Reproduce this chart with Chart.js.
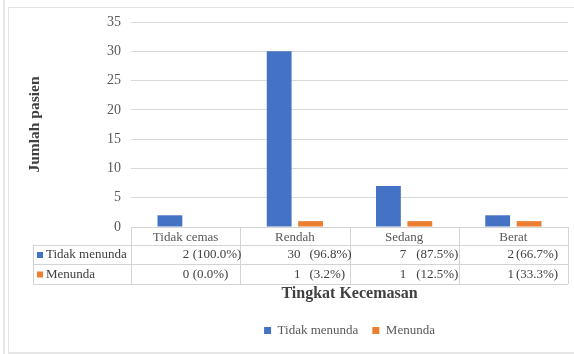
<!DOCTYPE html>
<html>
<head>
<meta charset="utf-8">
<script src="https://cdn.jsdelivr.net/npm/chart.js@4/dist/chart.umd.min.js"></script>
<style>
  html, body { margin: 0; padding: 0; background: #fff; }
  canvas { display: block; }
</style>
</head>
<body>
<canvas id="anxietyChart" width="574" height="354"></canvas>
<script>
// categories and series
const categories = ['Tidak cemas', 'Rendah', 'Sedang', 'Berat'];
const seriesNames = ['Tidak menunda', 'Menunda'];
const tidakMenunda = [2, 30, 7, 2];
const menunda = [0, 1, 1, 1];
const tidakMenundaPct = ['(100.0%)', '(96.8%)', '(87.5%)', '(66.7%)'];
const menundaPct = ['(0.0%)', '(3.2%)', '(12.5%)', '(33.3%)'];
const yTicks = [0, 5, 10, 15, 20, 25, 30, 35];

const FONT = "'Liberation Serif', 'Times New Roman', serif";
const BLUE = '#4472C4';
const ORANGE = '#ED7D31';
const TEXT = '#595959';
const LINE = '#d4d4d4';

// where numbers / percents sit inside each table cell (offset from column centre)
const numOffset = [3.5, 5.5, 2, 0.5];
const pctOffset = [7, 14.5, 12, 2.5];

const frame = {
  id: 'frame',
  beforeDraw(chart) {
    const c = chart.ctx;
    c.save();
    c.fillStyle = '#fff';
    c.fillRect(0, 0, chart.width, chart.height);
    c.strokeStyle = '#e3e3e3';
    c.lineWidth = 1;
    c.beginPath();
    c.moveTo(8.5, chart.height);
    c.lineTo(8.5, 7.5);
    c.lineTo(chart.width, 7.5);
    c.stroke();
    c.fillStyle = '#e6e6e6';
    c.fillRect(3, 0, 2, chart.height);
    c.fillRect(8, 352, chart.width - 8, 2);
    c.restore();
  }
};

// data table under the x axis
const dataTable = {
  id: 'dataTable',
  afterDraw(chart) {
    const c = chart.ctx;
    const x = chart.scales.x;
    const area = chart.chartArea;
    const colW = (area.right - area.left) / categories.length;
    const top = area.bottom;
    const rows = [top, top + 18, top + 37, top + 57];
    const tableLeft = 33;

    c.save();
    c.strokeStyle = LINE;
    c.lineWidth = 1;
    c.beginPath();
    c.moveTo(area.left, rows[0] + 0.5);
    c.lineTo(area.right, rows[0] + 0.5);
    for (let r = 1; r < rows.length; r++) {
      c.moveTo(tableLeft, rows[r] + 0.5);
      c.lineTo(area.right, rows[r] + 0.5);
    }
    c.moveTo(tableLeft + 0.5, rows[1]);
    c.lineTo(tableLeft + 0.5, rows[3]);
    for (let i = 0; i <= categories.length; i++) {
      const vx = Math.round(area.left + i * colW) + 0.5;
      c.moveTo(vx, rows[0]);
      c.lineTo(vx, rows[3]);
    }
    c.stroke();

    c.font = '13px ' + FONT;
    c.textBaseline = 'middle';
    const series = [
      { name: seriesNames[0], color: BLUE, vals: tidakMenunda, pct: tidakMenundaPct },
      { name: seriesNames[1], color: ORANGE, vals: menunda, pct: menundaPct }
    ];
    series.forEach((s, r) => {
      const cy = (rows[r + 1] + rows[r + 2]) / 2 + 0.5;
      c.fillStyle = s.color;
      c.fillRect(37, cy - 3, 6, 6);
      c.fillStyle = '#404040';
      c.textAlign = 'left';
      c.fillText(s.name, 46, cy);
      s.vals.forEach((v, i) => {
        const cx = x.getPixelForValue(i);
        c.textAlign = 'right';
        c.fillText(String(v), cx + numOffset[i], cy);
        c.textAlign = 'left';
        c.fillText(s.pct[i], cx + pctOffset[i], cy);
      });
    });
    c.restore();
  }
};

const ctx = document.getElementById('anxietyChart').getContext('2d');
const anxietyChart = new Chart(ctx, {
  type: 'bar',
  data: {
    labels: categories,
    datasets: [
      { label: seriesNames[0], data: tidakMenunda, backgroundColor: BLUE },
      { label: seriesNames[1], data: menunda, backgroundColor: ORANGE }
    ]
  },
  options: {
    responsive: false,
    animation: false,
    devicePixelRatio: 1,
    categoryPercentage: 0.575,
    barPercentage: 0.79,
    layout: { padding: { top: 22, right: 6, left: 22, bottom: 7 } },
    plugins: {
      tooltip: { enabled: false },
      legend: {
        position: 'bottom',
        fullSize: false,
        labels: {
          boxWidth: 7,
          boxHeight: 7,
          padding: 14,
          color: TEXT,
          font: { family: FONT, size: 13 }
        }
      }
    },
    scales: {
      x: {
        grid: { display: false, drawTicks: false },
        border: { display: false },
        ticks: { color: TEXT, padding: 3, font: { family: FONT, size: 13 } },
        title: {
          display: true,
          text: 'Tingkat Kecemasan',
          color: '#404040',
          padding: { top: 0, bottom: 6.5 },
          font: { family: FONT, size: 16, weight: 'bold' }
        },
        afterFit(scale) { scale.height = 83; }
      },
      y: {
        min: 0,
        max: 35,
        afterBuildTicks(scale) { scale.ticks = yTicks.map(v => ({ value: v })); },
        grid: { color: '#d9d9d9', drawTicks: false },
        border: { display: false },
        ticks: { color: TEXT, padding: 10, font: { family: FONT, size: 14 } },
        title: {
          display: true,
          text: 'Jumlah pasien',
          color: '#404040',
          padding: 4,
          font: { family: FONT, size: 15.5, weight: 'bold' }
        },
        afterFit(scale) { scale.width = 109; }
      }
    }
  },
  plugins: [frame, dataTable]
});
</script>
</body>
</html>
